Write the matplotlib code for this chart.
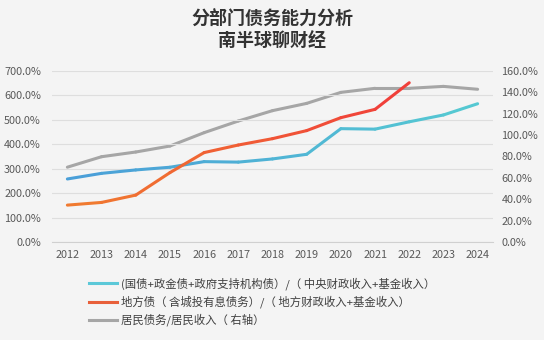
import matplotlib
matplotlib.use("Agg")
import matplotlib.pyplot as plt
import numpy as np
from matplotlib.colors import to_rgb
from matplotlib.lines import Line2D
from matplotlib.ticker import FuncFormatter, MultipleLocator

plt.rcParams['font.family'] = ['Noto Sans CJK SC', 'DejaVu Sans']

years = [2012, 2013, 2014, 2015, 2016, 2017, 2018, 2019, 2020, 2021, 2022, 2023, 2024]
central = [258, 281, 295, 306, 329, 327, 340, 359, 464, 462, 492, 520, 566]
local_years = [2012, 2013, 2014, 2015, 2016, 2017, 2018, 2019, 2020, 2021, 2022]
local = [151, 162, 192, 284, 366, 397, 423, 456, 509, 543, 652]
household = [70, 79.8, 84.2, 89.8, 102.3, 113.2, 122.9, 129.7, 140, 143.8, 143.8, 145.6, 142.9]

labels = ['(国债+政金债+政府支持机构债）/（ 中央财政收入+基金收入）',
          '地方债（ 含城投有息债务）/（ 地方财政收入+基金收入）',
          '居民债务/居民收入（ 右轴）']

bg = '#f4f4f4'
fig = plt.figure(figsize=(5.44, 3.4), dpi=100, facecolor=bg)
ax = fig.add_axes([52/544, 1-242/340, (493-52)/544, (242-71)/340], facecolor=bg)
ax2 = ax.twinx()

def grad_plot(a, xs, ys, c0, c1, lw=2.2):
    c0 = np.array(to_rgb(c0)); c1 = np.array(to_rgb(c1))
    n = len(xs) - 1
    for i in range(n):
        t = i / max(n - 1, 1)
        a.plot(xs[i:i+2], ys[i:i+2], color=tuple(c0 + (c1 - c0) * t), lw=lw,
               solid_capstyle='round', zorder=3)

ax.set_zorder(ax2.get_zorder() + 1)
ax.patch.set_visible(False)
ax2.patch.set_facecolor(bg)

grad_plot(ax2, years, household, '#a6a6a6', '#a6a6a6')
grad_plot(ax, years, central, '#4a9fd8', '#55c8d2')
grad_plot(ax, local_years, local, '#f07a30', '#f0403a')

ax.set_ylim(0, 700)
ax2.set_ylim(0, 160)
ax.set_xlim(2011.55, 2024.45)
ax.yaxis.set_major_locator(MultipleLocator(100))
ax2.yaxis.set_major_locator(MultipleLocator(20))
ax.yaxis.set_major_formatter(FuncFormatter(lambda v, p: f'{v:.1f}%'))
ax2.yaxis.set_major_formatter(FuncFormatter(lambda v, p: f'{v:.1f}%'))
ax.set_xticks(years)
ax.set_xticklabels([str(y) for y in years])
ax.grid(axis='y', color='#dedede', lw=0.8)
ax.set_axisbelow(True)

for a in (ax, ax2):
    for s in a.spines.values():
        s.set_visible(False)
    a.tick_params(length=0, labelsize=7.8, colors='#595959')
ax.spines['bottom'].set_visible(True)
ax.spines['bottom'].set_color('#d0d0d0')
ax.tick_params(axis='x', pad=6)
ax.tick_params(axis='y', pad=8)
ax2.tick_params(axis='y', pad=6)

fig.text(0.5, 1-18/340, '分部门债务能力分析', ha='center', va='center', fontsize=13,
         fontweight='bold', color='#333333')
fig.text(0.5, 1-41/340, '南半球聊财经', ha='center', va='center', fontsize=13,
         fontweight='bold', color='#333333')

handles = [Line2D([], [], color='#5bc8d8', lw=2.2),
           Line2D([], [], color='#e8603a', lw=2.2),
           Line2D([], [], color='#a6a6a6', lw=2.2)]
fig.legend(handles, labels, loc='upper left', bbox_to_anchor=(89/544, 1-277/340),
           frameon=False, fontsize=8.2, labelcolor='#404040', handlelength=2.5,
           handletextpad=0.35, labelspacing=0.5, borderaxespad=0, borderpad=0)

fig.savefig('out.png', dpi=100, facecolor=bg)
